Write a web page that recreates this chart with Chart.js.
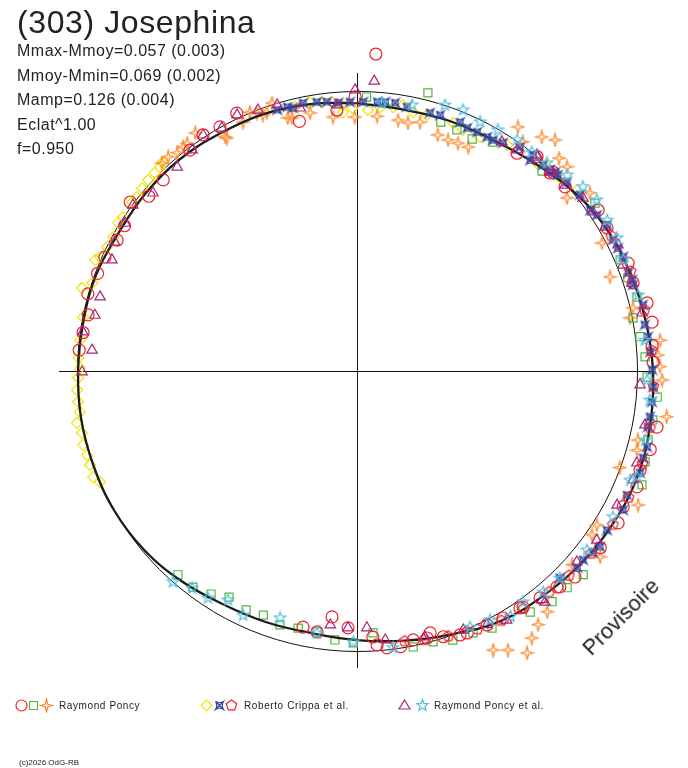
<!DOCTYPE html>
<html>
<head>
<meta charset="utf-8">
<script src="https://cdn.jsdelivr.net/npm/chart.js@4/dist/chart.umd.min.js"></script>
<style>
  html, body { margin: 0; padding: 0; background: #fff; }
  #wrap { position: relative; width: 688px; height: 768px; overflow: hidden; font-family: "Liberation Sans", Arial, sans-serif; color: #222; }
  #c { position: absolute; left: 0; top: 0; }
  .t { position: absolute; white-space: nowrap; }
  #title { left: 17px; top: 6px; font-size: 32px; line-height: 32px; letter-spacing: 0.6px; }
  #stats { left: 17px; top: 39px; font-size: 16px; line-height: 24.6px; letter-spacing: 0.5px; }
  .leg { position: absolute; top: 699.5px; font-size: 10px; line-height: 12px; letter-spacing: 0.6px; white-space: nowrap; }
  .ico { position: absolute; top: 697.5px; }
  #copy { left: 19px; top: 758px; font-size: 8px; line-height: 10px; }
  #prov { left: 566px; top: 605px; width: 110px; height: 24px; text-align: center; font-size: 22px; line-height: 24px; transform: rotate(-45deg); }
</style>
</head>
<body>
<div id="wrap">
  <canvas id="c" width="688" height="768"></canvas>
  <div class="t" id="title">(303) Josephina</div>
  <div class="t" id="stats">Mmax-Mmoy=0.057 (0.003)<br>Mmoy-Mmin=0.069 (0.002)<br>Mamp=0.126 (0.004)<br>Eclat^1.00<br>f=0.950</div>
  <div class="leg" style="left:59px">Raymond Poncy</div>
  <div class="leg" style="left:244px">Roberto Crippa et al.</div>
  <div class="leg" style="left:434px">Raymond Poncy et al.</div>
  <div class="t" id="copy">(c)2026 OdG-RB</div>
  <div class="t" id="prov">Provisoire</div>
</div>
<script>
// ---------- DATA (angle in degrees clockwise from top, relative radius; circle = 1) ----------
const fitAngle = [0,10,20,30,40,50,60,70,80,90,100,110,120,130,140,150,160,170,180,190,200,210,220,230,240,250,260,270,280,290,300,310,320,330,340,350];
const fitR     = [0.957,0.948,0.952,0.957,0.975,1.003,1.025,1.036,1.046,1.057,1.064,1.070,1.065,1.056,1.043,1.030,1.000,0.978,0.961,0.950,0.954,0.961,0.978,0.993,1.000,1.000,1.000,0.996,0.993,0.993,0.984,0.986,0.986,0.979,0.976,0.968];

// Raymond Poncy
const poncyCircleAngle = [3.4,347,355.6,359.6,36.3,40,44.6,335,330.7,326.9,322.9,314.6,310,306.7,302,298.6,294.3,290.6,286,281.8,278,274.3,185.8,182,191.9,173.8,175.8,171,168.2,165.3,162,158.7,152.9,149.4,145.5,141.1,137.2,188.7,176.6,164.4,157.2,144.9,136.8,133.4,126,120.2,117,112.5,76.8,80.6,88.3,100.6,105,109.3,85,44.3,48.5,56.3,60.2,68.3,72.3];
const poncyCircleR     = [1.134,0.915,0.935,0.979,0.965,1.000,0.997,1.016,1.000,1.007,0.989,0.972,0.971,1.010,0.979,0.976,0.988,0.990,1.000,0.981,0.988,0.995,0.883,0.918,0.935,0.995,0.981,0.997,0.981,0.986,0.998,1.012,1.019,1.025,1.027,1.041,1.051,0.943,0.952,0.971,1.015,1.031,1.058,1.071,1.074,1.079,1.067,1.082,1.064,1.068,1.058,1.090,1.084,1.071,1.058,0.988,0.992,1.035,1.029,1.042,1.035];
const poncySquareAngle = [14.3,2,18.6,22.5,26.4,30.7,42.8,54.8,67.1,71,75.2,79.1,83.1,87.2,91.2,95,99.4,103.3,107.5,111.8,132,135.9,139.8,144.3,152.3,156.1,160.4,164.3,168.5,176.5,180.8,184.7,188.7,192.9,196.9,201,204.9,209.5,213.2,217.2,221.3];
const poncySquareR     = [1.025,0.979,0.938,0.932,0.925,0.951,0.973,1.040,1.020,1.023,1.034,1.004,1.018,1.030,1.036,1.076,1.071,1.068,1.079,1.096,1.087,1.078,1.079,1.060,1.037,1.023,1.020,1.005,1.006,0.937,0.971,0.964,0.943,0.942,0.948,0.934,0.941,0.928,0.952,0.969,0.969];
const poncyStarAngle = [345.6,349.7,354.6,359.5,4.5,9.3,11.6,14.2,18.9,21.5,23.9,26.4,340.8,342.4,33.4,38.3,40.6,43.5,45.8,35.9,50.5,52.6,62.4,69.6,79,77.1,84.2,87,89.2,91.7,98.4,103.8,105.8,110.2,115.5,122.7,124.9,127.4,132,141.7,144.5,146.8,148.9,151.6,154,338.8,337.5,335.4,330.6,325.8,323.3,318.6,320.5,316.8,322.2,330.8,339.8,344.7];
const poncyStarR     = [0.933,0.937,0.911,0.907,0.913,0.908,0.905,0.917,0.891,0.887,0.890,0.893,0.979,1.004,1.044,1.065,1.087,1.048,1.046,1.010,0.972,1.047,0.987,0.964,0.993,1.011,1.088,1.076,1.082,1.090,1.118,1.033,1.039,1.000,1.112,1.018,1.023,1.093,1.034,1.096,1.113,1.140,1.176,1.133,1.109,0.988,1.000,0.978,0.960,1.028,1.015,1.020,1.010,1.018,1.013,0.953,0.974,0.937];

// Roberto Crippa et al.
const crippaDiamondAngle = [254.9,252.7,250.6,248.1,246.6,286.8,288.4,281.1,276.4,272.7,270.6,268.6,266.1,263.7,261.6,259.5,257.3,293,293.9,296.4,298.8,301.8,303.3,306.9,308.3,310.4,312.4,314.4,316,317.1,350,352.6,354.7,356.8,359,2.4,5,7.8,9.8,12.2,15.3,21.2,23.7,27.7,356.9,346.8,33.6,40.9,46.4,50.6,42.4];
const crippaDiamondR     = [1.013,1.010,1.011,1.016,1.000,1.026,0.996,0.997,0.995,0.996,0.989,0.996,1.002,1.002,1.000,1.017,1.007,1.016,1.004,0.996,0.993,1.004,1.000,1.004,1.002,1.007,1.011,1.011,1.013,1.019,0.975,0.968,0.964,0.951,0.939,0.933,0.946,0.951,0.964,0.946,0.948,0.950,0.940,0.944,0.926,0.968,0.969,0.982,1.000,1.017,0.996];
const crippaCrossAngle = [346.3,348.6,351.5,353.6,356,358.5,1.3,4.3,6,8.1,10.7,15.8,18,22.5,24.4,26.7,30.5,32.6,36,39.2,42.1,43.8,45.7,343,345.2,29.1,39.4,44.9,48,51.7,55.4,57,59.7,62.9,64.8,66.8,70.1,71.7,72.7,77,80.9,83.3,86.3,89.8,93.1,96,98.9,100.9,104.7,106.9,109.8,114.7,117.6,122.5,125.9,127.6,129.9,131.8,135.6];
const crippaCrossR     = [0.967,0.976,0.971,0.967,0.960,0.961,0.961,0.964,0.966,0.967,0.960,0.958,0.961,0.962,0.953,0.955,0.957,0.967,0.989,0.995,0.991,0.995,1.002,0.975,0.975,0.956,0.974,1.002,1.009,1.015,1.012,1.022,1.034,1.027,1.030,1.034,1.030,1.035,1.032,1.048,1.041,1.046,1.049,1.054,1.059,1.059,1.059,1.058,1.071,1.068,1.074,1.061,1.072,1.058,1.071,1.064,1.052,1.055,1.035];
const crippaPentAngle = [62,70,78,86,93,101,108,115,121,128,134,139,145,150,155,161,166,170];
const crippaPentR     = [1.028,1.040,1.050,1.055,1.060,1.066,1.072,1.070,1.066,1.060,1.052,1.046,1.036,1.030,1.018,1.002,0.990,0.980];

// Raymond Poncy et al.
const poncyAlTriAngle = [3.4,359.6,343.3,347.8,355.7,35.9,39.8,44.1,339.2,334.9,330.9,326.9,323.3,318.6,311.1,306.5,302.5,298,294.4,286.1,282,274.5,269.8,278.1,92.8,100.6,78.5,108.2,32.3,40.1,44.4,48.2,52.6,56,59.9,64.2,68.3,72.3,111.5,117.3,125.2,131,141,149,186,182,177.8,174,165.7,157.7,152.9,140.9];
const poncyAlTriR     = [1.037,1.004,0.992,0.961,0.953,0.975,1.004,0.989,0.997,1.010,0.993,1.006,0.985,0.971,0.967,0.996,0.982,0.980,0.961,0.955,0.957,0.949,0.982,0.989,1.012,1.046,1.039,1.052,0.968,0.999,0.995,0.996,1.016,1.016,1.024,1.035,1.022,1.031,1.060,1.045,1.048,1.040,1.051,1.038,0.912,0.918,0.918,0.966,0.980,1.000,1.018,1.064];
const poncyAlStarAngle = [18.3,22.1,26.3,30.3,34.7,38.6,42.4,11.7,5.3,47,50.8,54.5,58.9,62.9,67.3,74.9,83.9,91.8,95.7,103.5,110.7,111.8,119.7,127.9,135.6,139.9,144.3,151.9,156.2,148,172.6,180.8,188.7,197.3,205,209.4,213.3,217.2,221.1];
const poncyAlStarR     = [1.000,1.006,0.992,0.997,1.004,1.000,1.006,0.970,0.961,1.026,1.041,1.052,1.043,1.043,1.030,1.040,1.034,1.036,1.051,1.058,1.069,1.050,1.052,1.041,1.036,1.032,1.016,1.008,1.000,1.034,0.997,0.968,0.947,0.924,0.962,0.939,0.970,0.974,1.000];

// frame: reference circle radius and axis extents (chart units)
const refRadius = 1;
const hAxis = [-1.064, 1.057];
const vAxis = [-1.061, 1.064];

// ---------- helpers ----------
function toXY(angles, radii) {
  return angles.map((a, i) => ({
    x: radii[i] * Math.sin(a * Math.PI / 180),
    y: radii[i] * Math.cos(a * Math.PI / 180)
  }));
}

const COL = {
  red: '#ee2228', green: '#52b83e', orange: '#ff8526', yellow: '#f2e400',
  blue: '#34479f', purple: '#ab2478', cyan: '#52c0e0', black: '#1c1c1c'
};
const LW = 1.2;

function makeIcon(kind, color) {
  const c = document.createElement('canvas');
  c.width = 15; c.height = 15;
  const g = c.getContext('2d');
  g.strokeStyle = color; g.lineWidth = LW;
  g.translate(7.5, 7.5);
  g.beginPath();
  const poly = (n, r, inner, rot) => {
    const m = inner ? n * 2 : n;
    for (let k = 0; k < m; k++) {
      const rr = inner ? (k % 2 ? inner : r) : r;
      const a = rot + k * 2 * Math.PI / m;
      const px = rr * Math.sin(a), py = -rr * Math.cos(a);
      if (k === 0) g.moveTo(px, py); else g.lineTo(px, py);
    }
    g.closePath();
  };
  switch (kind) {
    case 'circle': g.arc(0, 0, 5.5, 0, 2 * Math.PI); break;
    case 'square': g.rect(-4, -4, 8, 8); break;
    case 'diamond': poly(4, 5.5, 0, 0); break;
    case 'triangle': g.moveTo(0, -5.5); g.lineTo(5.5, 3.5); g.lineTo(-5.5, 3.5); g.closePath(); break;
    case 'star4': poly(4, 6.5, 1.8, 0); break;
    case 'star5': poly(5, 6, 2.5, 0); break;
    case 'pentagon': poly(5, 5.5, 0, 0); break;
    case 'blue':
      g.moveTo(-4, -4); g.quadraticCurveTo(0, -1.5, 4, -4);
      g.quadraticCurveTo(1.5, 0, 4, 4);
      g.quadraticCurveTo(0, 1.5, -4, 4);
      g.quadraticCurveTo(-1.5, 0, -4, -4);
      g.moveTo(-4, -4); g.lineTo(4, 4);
      g.moveTo(4, -4); g.lineTo(-4, 4);
      break;
  }
  g.stroke();
  return c;
}

const star4Img = makeIcon('star4', COL.orange);
const star5Img = makeIcon('star5', COL.cyan);
const pentImg = makeIcon('pentagon', COL.red);
const blueImg = makeIcon('blue', COL.blue);

// legend icons
const legendIcons = [
  ['circle', COL.red, 21.5], ['square', COL.green, 33], ['star4', COL.orange, 46],
  ['diamond', COL.yellow, 206.5], ['blue', COL.blue, 219], ['pentagon', COL.red, 231.5],
  ['triangle', COL.purple, 404], ['star5', COL.cyan, 422]
];
const wrap = document.getElementById('wrap');
legendIcons.forEach(([k, col, cx]) => {
  const ic = makeIcon(k, col);
  ic.className = 'ico';
  ic.style.left = (cx - 7.5) + 'px';
  wrap.appendChild(ic);
});

// plugin: reference circle and axes drawn through chart scales
const framePlugin = {
  id: 'frame',
  beforeDatasetsDraw(chart) {
    const xs = chart.scales.x, ys = chart.scales.y, ctx = chart.ctx;
    const cx = Math.round(xs.getPixelForValue(0)) + 0.5;
    const cy = Math.round(ys.getPixelForValue(0)) + 0.5;
    const rad = xs.getPixelForValue(refRadius) - xs.getPixelForValue(0);
    ctx.save();
    ctx.strokeStyle = '#111';
    ctx.lineWidth = 1;
    ctx.beginPath();
    ctx.arc(cx, cy, rad, 0, 2 * Math.PI);
    ctx.stroke();
    ctx.beginPath();
    ctx.moveTo(Math.round(xs.getPixelForValue(hAxis[0])), cy);
    ctx.lineTo(Math.round(xs.getPixelForValue(hAxis[1])), cy);
    ctx.moveTo(cx, Math.round(ys.getPixelForValue(vAxis[1])));
    ctx.lineTo(cx, Math.round(ys.getPixelForValue(vAxis[0])));
    ctx.stroke();
    ctx.restore();
  }
};

const fitPts = toXY(fitAngle, fitR);
fitPts.push(fitPts[0]);

function pts(label, data, style, color, radius, order) {
  return {
    label, data, order,
    showLine: false,
    pointStyle: style,
    pointRadius: radius,
    pointBorderColor: color,
    pointBackgroundColor: 'rgba(0,0,0,0)',
    pointBorderWidth: LW
  };
}

new Chart(document.getElementById('c'), {
  type: 'scatter',
  data: {
    datasets: [
      pts('Raymond Poncy et al. (star)', toXY(poncyAlStarAngle, poncyAlStarR), star5Img, COL.cyan, 6, 1),
      pts('Raymond Poncy et al. (triangle)', toXY(poncyAlTriAngle, poncyAlTriR), 'triangle', COL.purple, 6, 2),
      pts('Roberto Crippa et al. (pentagon)', toXY(crippaPentAngle, crippaPentR), pentImg, COL.red, 6, 3),
      pts('Roberto Crippa et al. (cross)', toXY(crippaCrossAngle, crippaCrossR), blueImg, COL.blue, 5, 4),
      pts('Raymond Poncy (circle)', toXY(poncyCircleAngle, poncyCircleR), 'circle', COL.red, 6, 5),
      {
        label: 'fit', data: fitPts, order: 6, showLine: true,
        borderColor: COL.black, borderWidth: 2.3, tension: 0.4,
        pointRadius: 0, fill: false
      },
      pts('Raymond Poncy (square)', toXY(poncySquareAngle, poncySquareR), 'rect', COL.green, 5.7, 7),
      pts('Raymond Poncy (star)', toXY(poncyStarAngle, poncyStarR), star4Img, COL.orange, 6, 8),
      pts('Roberto Crippa et al. (diamond)', toXY(crippaDiamondAngle, crippaDiamondR), 'rectRot', COL.yellow, 5.5, 9)
    ]
  },
  options: {
    responsive: false,
    animation: false,
    events: [],
    layout: { padding: 0, autoPadding: false },
    plugins: { legend: { display: false }, tooltip: { enabled: false }, title: { display: false } },
    scales: {
      x: { type: 'linear', min: -1.275, max: 1.182, display: false },
      y: { type: 'linear', min: -1.418, max: 1.325, display: false }
    },
    clip: false
  },
  plugins: [framePlugin]
});
</script>
</body>
</html>
